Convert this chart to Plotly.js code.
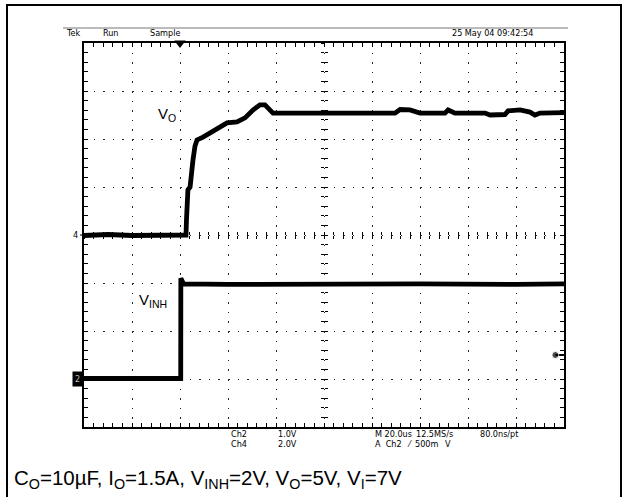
<!DOCTYPE html>
<html>
<head>
<meta charset="utf-8">
<script src="https://cdn.plot.ly/plotly-3.0.1.min.js"></script>
<style>html,body{margin:0;padding:0;background:#fff;}#chart{width:623px;height:497px;}</style>
</head>
<body>
<div id="chart"></div>
<script>
// Time axis in microseconds (M 20.0us/div), trigger at t = 0
const TIME_RANGE = [-40, 160];
// V_O on Ch4 (2.0 V/div), V_INH on Ch2 (1.0 V/div)
const CH4_RANGE = [-8, 8];
const CH2_RANGE = [-1, 7];

const VO_T = [-40, -30, -20, -10, 0, 2.5, 2.7, 2.9, 3.3, 4.2, 4.6, 5.4, 6.25, 7.1, 9.6, 12.5, 16.7, 19.6, 23.75, 27.1, 30.4, 33.3, 35.4, 37.5, 38.75, 45.8, 60, 75, 89.6, 91.7, 95.8, 100, 110.4, 111.7, 114.6, 127.1, 129.2, 135.4, 136.7, 141.7, 145.8, 147.9, 150, 160];
const VO_V = [-0.02, 0.02, -0.02, 0.0, -0.02, 0.0, 0.63, 1.25, 1.88, 2.0, 2.5, 3.12, 3.71, 3.96, 4.08, 4.25, 4.5, 4.67, 4.71, 4.88, 5.21, 5.42, 5.42, 5.17, 5.08, 5.08, 5.1, 5.08, 5.08, 5.23, 5.21, 5.08, 5.08, 5.21, 5.08, 5.08, 5.0, 5.02, 5.17, 5.21, 5.12, 5.0, 5.08, 5.1];

const VINH_T = [-40, 0.3, 0.35, 1.5, 20, 60, 100, 140, 160];
const VINH_V = [0.01, 0.01, 2.1, 1.98, 1.97, 1.98, 1.98, 1.97, 1.98];

const TRIGGER_T = 0;
const TRIGGER_LEVEL = 0.5; // A Ch2 500mV

const HEADER = ["Tek", "Run", "Sample"];
const DATE_TEXT = "25 May 04 09:42:54";
const CAPTION = "C<sub>O</sub>=10µF, I<sub>O</sub>=1.5A, V<sub>INH</sub>=2V, V<sub>O</sub>=5V, V<sub>I</sub>=7V";

const L = 84, R = 564, T = 43, B = 427;
const px = v => (v - L) / (R - L);
const py = v => (B - v) / (B - T);

const narrow = {family: "DejaVu Sans Condensed, sans-serif", size: 9, color: "#000"};
const sans = {family: "Liberation Sans, Arial, Helvetica, sans-serif", color: "#000"};

function txt(text, x, y, font, xanchor) {
  return {text: text, xref: "paper", yref: "paper", x: px(x), y: py(y), xanchor: xanchor || "left", yanchor: "middle", showarrow: false, font: font};
}

const data = [
  {x: VO_T, y: VO_V, xaxis: "x", yaxis: "y", mode: "lines", line: {color: "#000", width: 4.8}, hoverinfo: "skip"},
  {x: VINH_T, y: VINH_V, xaxis: "x", yaxis: "y2", mode: "lines", line: {color: "#000", width: 4.8}, hoverinfo: "skip"},
  {x: [TRIGGER_T], y: [CH4_RANGE[1]], xaxis: "x", yaxis: "y", mode: "markers", marker: {symbol: "triangle-down", size: 10, color: "#000"}, cliponaxis: false, hoverinfo: "skip"},
  {x: [TIME_RANGE[1] - 3.6, TIME_RANGE[1]], y: [TRIGGER_LEVEL, TRIGGER_LEVEL], xaxis: "x", yaxis: "y2", mode: "lines+markers", line: {color: "#000", width: 2}, marker: {size: [7, 0], color: "#000"}, cliponaxis: false, hoverinfo: "skip"},
  {x: [], y: [], xaxis: "x2", yaxis: "y"},
  {x: [], y: [], xaxis: "x3", yaxis: "y"},
  {x: [], y: [], xaxis: "x", yaxis: "y3"},
  {x: [], y: [], xaxis: "x", yaxis: "y4"}
];

const gridDash = "1.5px,8.1px";
const centerX = {overlaying: "x", anchor: "free", position: 0.5, range: TIME_RANGE, dtick: 4, tick0: -40, ticklen: 3, tickcolor: "#000", tickwidth: 1, showgrid: false, showline: false, showticklabels: false, zeroline: false};
const centerY = {overlaying: "y", anchor: "free", position: 0.5, range: CH4_RANGE, dtick: 0.4, tick0: -8, ticklen: 3, tickcolor: "#000", tickwidth: 1, showgrid: false, showline: false, showticklabels: false, zeroline: false};

const layout = {
  width: 623, height: 497,
  margin: {l: L, r: 623 - R, t: T, b: 497 - B, pad: 0},
  paper_bgcolor: "#fff", plot_bgcolor: "#fff",
  showlegend: false,
  xaxis: {range: TIME_RANGE, dtick: 20, tick0: -40, showgrid: true, gridcolor: "#222", gridwidth: 1, griddash: gridDash,
    ticks: "inside", ticklen: 4, tickcolor: "#000", tickwidth: 1, showticklabels: false, zeroline: false,
    showline: true, linecolor: "#000", linewidth: 2, mirror: "ticks",
    minor: {dtick: 4, tick0: -40, ticks: "inside", ticklen: 4, tickcolor: "#000", tickwidth: 1, showgrid: false}},
  yaxis: {range: CH4_RANGE, dtick: 2, tick0: -8, showgrid: true, gridcolor: "#222", gridwidth: 1, griddash: gridDash,
    ticks: "inside", ticklen: 4, tickcolor: "#000", tickwidth: 1, showticklabels: false, zeroline: false,
    showline: true, linecolor: "#000", linewidth: 2, mirror: "ticks",
    minor: {dtick: 0.4, tick0: -8, ticks: "inside", ticklen: 4, tickcolor: "#000", tickwidth: 1, showgrid: false}},
  yaxis2: {overlaying: "y", range: CH2_RANGE, visible: false},
  xaxis2: Object.assign({ticks: "outside"}, centerX),
  xaxis3: Object.assign({ticks: "inside"}, centerX),
  yaxis3: Object.assign({ticks: "outside"}, centerY),
  yaxis4: Object.assign({ticks: "inside"}, centerY),
  shapes: [
    {type: "rect", xref: "paper", yref: "paper", x0: px(7), x1: px(621), y0: py(520), y1: py(5), line: {color: "#000", width: 2}, fillcolor: "rgba(0,0,0,0)", layer: "above"},
    {type: "line", xref: "paper", yref: "paper", x0: px(63), x1: px(568), y0: py(28), y1: py(28), line: {color: "#777", width: 1}},
    {type: "line", xref: "paper", yref: "paper", x0: px(80), x1: px(84), y0: py(235), y1: py(235), line: {color: "#000", width: 1}}
  ],
  annotations: [
    txt(HEADER[0], 64, 33, narrow),
    txt(HEADER[1], 101, 33, narrow),
    txt(HEADER[2], 148, 33, narrow),
    txt(DATE_TEXT, 535, 33, narrow, "right"),
    txt("Ch2", 229, 434, narrow),
    txt("1.0V", 276, 434, narrow),
    txt("Ch4", 229, 444, narrow),
    txt("2.0V", 276, 444, narrow),
    txt("M 20.0us", 373, 434, narrow),
    txt("12.5MS/s", 414, 434, narrow),
    txt("80.0ns/pt", 478, 434, narrow),
    txt("A  Ch2", 373, 444, narrow),
    txt("⁄", 405, 444, narrow),
    txt("500m", 413, 444, narrow),
    txt("V", 443, 444, narrow),
    txt("4", 80, 235, narrow, "right"),
    {text: "2", xref: "paper", yref: "paper", x: px(83), y: py(378.5), xanchor: "right", yanchor: "middle", showarrow: false,
      font: {family: narrow.family, size: 9, color: "#bbb"}, bgcolor: "#000", borderpad: 2},
    txt("V<sub>O</sub>", 156, 114, Object.assign({size: 15}, sans)),
    txt("V<sub>INH</sub>", 137, 300, Object.assign({size: 15}, sans)),
    txt(CAPTION, 12, 479, Object.assign({size: 20.5}, sans))
  ]
};

Plotly.newPlot("chart", data, layout, {staticPlot: true, displayModeBar: false});
</script>
</body>
</html>
